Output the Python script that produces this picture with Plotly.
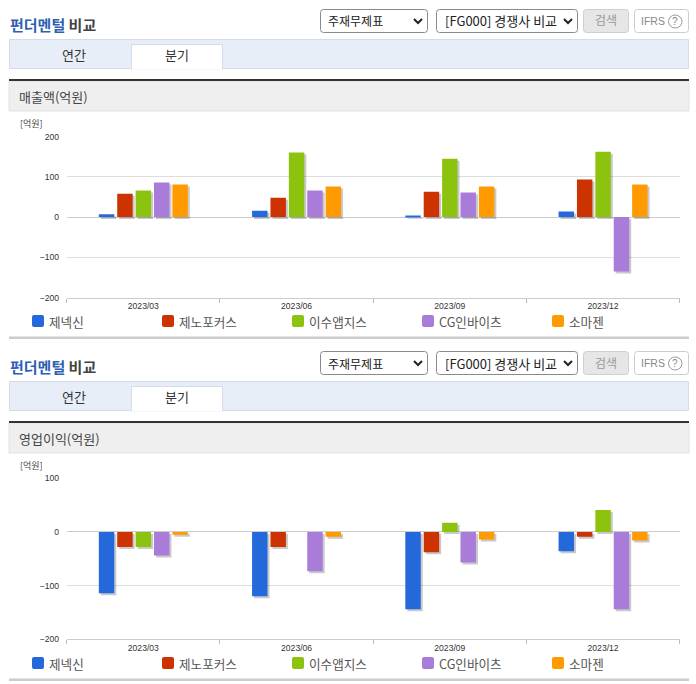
import plotly.graph_objects as go

W, H = 696, 684
KR = "Noto Sans CJK KR"

# data
periods = ["2023/03", "2023/06", "2023/09", "2023/12"]
companies = ["제넥신", "제노포커스", "이수앱지스", "CG인바이츠", "소마젠"]
colors = ["#2469dc", "#cc3300", "#8cc30f", "#a87cd8", "#ff9b00"]

sales_genexine = [7, 16, 2, 14]
sales_genofocus = [58, 48, 63, 93]
sales_isu = [66, 160, 145, 162]
sales_cg = [86, 66, 61, -135]
sales_somagen = [81, 76, 76, 81]

profit_genexine = [-114, -120, -144, -36]
profit_genofocus = [-28, -28, -38, -9]
profit_isu = [-28, None, 17, 41]
profit_cg = [-44, -73, -57, -144]
profit_somagen = [-5, -9, -14, -16]

sales = [sales_genexine, sales_genofocus, sales_isu, sales_cg, sales_somagen]
profit = [profit_genexine, profit_genofocus, profit_isu, profit_cg, profit_somagen]

sales_ticks = [-200, -100, 0, 100, 200]
profit_ticks = [-200, -100, 0, 100]

charts = [
    dict(off=0, label="매출액(억원)", values=sales, ticks=sales_ticks, top=136.5, bottom=297.7),
    dict(off=342, label="영업이익(억원)", values=profit, ticks=profit_ticks, top=478.3, bottom=639.3),
]

PLOT_L, PLOT_R = 66.7, 679.7
SHADOW = 2


def px(x):
    return x / W


def py(y):
    return 1 - y / H


fig = go.Figure()
shapes = []
notes = []


def rect(x0, y0, x1, y1, fill, line=None, width=1):
    shapes.append(dict(type="rect", xref="paper", yref="paper", x0=px(x0), x1=px(x1), y0=py(y0), y1=py(y1),
                       fillcolor=fill, line=dict(color=line, width=width if line else 0)))


def round_rect(x0, y0, x1, y1, r, fill, line=None):
    p = (f"M {px(x0 + r)} {py(y0)} L {px(x1 - r)} {py(y0)} Q {px(x1)} {py(y0)} {px(x1)} {py(y0 + r)} "
         f"L {px(x1)} {py(y1 - r)} Q {px(x1)} {py(y1)} {px(x1 - r)} {py(y1)} "
         f"L {px(x0 + r)} {py(y1)} Q {px(x0)} {py(y1)} {px(x0)} {py(y1 - r)} "
         f"L {px(x0)} {py(y0 + r)} Q {px(x0)} {py(y0)} {px(x0 + r)} {py(y0)} Z")
    shapes.append(dict(type="path", xref="paper", yref="paper", path=p, fillcolor=fill,
                       line=dict(color=line, width=1 if line else 0)))


def chevron(cx, cy):
    p = f"M {px(cx - 4)} {py(cy - 2)} L {px(cx)} {py(cy + 2)} L {px(cx + 4)} {py(cy - 2)}"
    shapes.append(dict(type="path", xref="paper", yref="paper", path=p, line=dict(color="#222222", width=2)))


def text(x, y, s, size=12, color="#333333", anchor="left", family=KR):
    notes.append(dict(xref="paper", yref="paper", x=px(x), y=py(y), text=s, showarrow=False, xanchor=anchor,
                      yanchor="middle", align=anchor, borderpad=0, borderwidth=0,
                      font=dict(family=family, size=size, color=color)))


axes = {}
for i, c in enumerate(charts):
    off = c["off"]

    # header block
    text(9.5, 24 + off, '<b><span style="color:#2f5fb3">펀더멘털</span> 비교</b>', 15, "#444444")
    round_rect(320.5, 9.5 + off, 427.5, 32.5 + off, 3, "#ffffff", "#8a8a8a")
    text(328, 21 + off, "주재무제표", 12, "#222222")
    chevron(418, 21 + off)
    round_rect(436.5, 9.5 + off, 577.5, 32.5 + off, 3, "#ffffff", "#8a8a8a")
    text(445, 21 + off, "[FG000] 경쟁사 비교", 13, "#222222")
    chevron(568, 21 + off)
    round_rect(583.5, 9.5 + off, 628.5, 32.5 + off, 3, "#e6e6e6", "#cfcfcf")
    text(606, 20 + off, "검색", 12, "#999999", "center")
    round_rect(634.5, 9.5 + off, 688.5, 32.5 + off, 3, "#ffffff", "#cccccc")
    text(641, 21 + off, "IFRS", 10.5, "#888888", family="Liberation Sans")
    shapes.append(dict(type="circle", xref="paper", yref="paper", x0=px(668.5), x1=px(682), y0=py(15 + off),
                       y1=py(28 + off), line=dict(color="#999999", width=1)))
    text(675.2, 21.5 + off, "?", 10, "#888888", "center", "Liberation Sans")

    # tabs
    rect(9.5, 39.5 + off, 688.5, 68.5 + off, "#e8eef7", "#d5dce8")
    rect(131.5, 44.5 + off, 222.5, 69 + off, "#ffffff", "#d5dce8")
    rect(132, 68 + off, 222, 69.5 + off, "#ffffff")
    text(74, 55 + off, "연간", 13, "#333333", "center")
    text(177, 55 + off, "분기", 13, "#333333", "center")

    # section head
    rect(9, 81 + off, 689, 111 + off, "#efefef", "#e2e2e2")
    rect(9, 79 + off, 689, 81 + off, "#333333")
    text(19, 96 + off, c["label"], 13, "#444444")
    text(20, 123 + off, "[억원]", 9, "#444444")

    # footer line
    rect(9, 336.5 + off, 689, 339 + off, "#cccccc")

    # legend
    for k, name in enumerate(companies):
        round_rect(32 + 130 * k, 315 + off, 44 + 130 * k, 327 + off, 2, colors[k])
        text(49 + 130 * k, 321 + off, name, 12.6, "#555555")

    # three stacked plot areas: grid and ticks, bar shadows, bars
    top, bottom = c["top"], c["bottom"]
    lo, hi = c["ticks"][0], c["ticks"][-1]
    for layer in range(3):
        n = 3 * i + layer + 1
        sfx = "" if n == 1 else str(n)
        shift = SHADOW if layer == 1 else 0
        axes["xaxis" + sfx] = dict(
            domain=[px(PLOT_L + shift), px(PLOT_R + shift)], anchor="y" + sfx, type="category",
            categoryorder="array", categoryarray=periods, range=[-0.5, 3.5], automargin=False,
            visible=layer == 0, showgrid=False, showline=True, linecolor="#cccccc", linewidth=1,
            ticks="outside", tickson="boundaries", ticklen=4, tickcolor="#bbbbbb",
            tickfont=dict(family="Liberation Sans", size=8.6, color="#333333"), zeroline=False,
        )
        axes["yaxis" + sfx] = dict(
            domain=[py(bottom + shift), py(top + shift)], anchor="x" + sfx, range=[lo, hi], automargin=False,
            visible=layer == 0, tickvals=c["ticks"], showgrid=True, gridcolor="#dddddd", gridwidth=1,
            zeroline=True, zerolinecolor="#cccccc", zerolinewidth=1, ticks="outside", ticklen=5,
            tickcolor="rgba(0,0,0,0)", showline=False,
            tickfont=dict(family="Liberation Sans", size=8.6, color="#333333"),
        )
        for k, name in enumerate(companies):
            if layer == 0:
                marker = dict(color="rgba(0,0,0,0)")
            elif layer == 1:
                marker = dict(color="rgba(60,60,70,0.28)")
            else:
                marker = dict(color=colors[k])
            fig.add_trace(go.Bar(x=periods, y=c["values"][k], name=name, marker=marker, marker_line_width=0,
                                 xaxis="x" + sfx, yaxis="y" + sfx, showlegend=False))

fig.update_layout(
    width=W, height=H, margin=dict(l=0, r=0, t=0, b=0), paper_bgcolor="#ffffff", plot_bgcolor="rgba(0,0,0,0)",
    barmode="group", bargap=0.4, bargroupgap=0.16, showlegend=False,
    shapes=shapes, annotations=notes, **axes,
)

fig.write_html("out.html", config=dict(displayModeBar=False),
               post_script="document.body.style.margin='0';")
